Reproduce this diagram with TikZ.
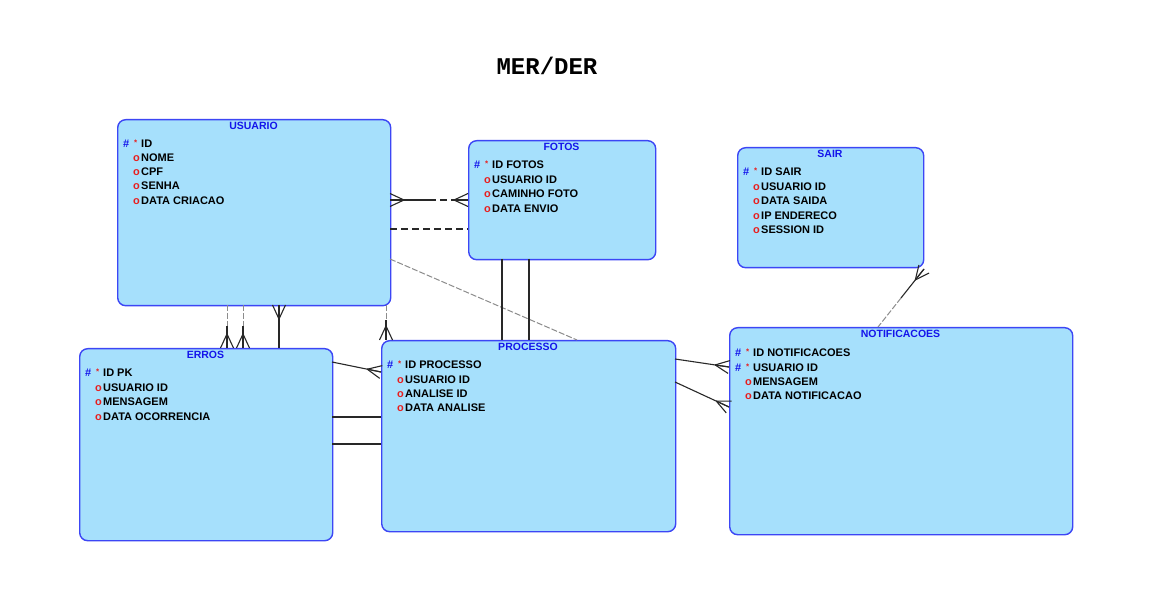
\documentclass[tikz,border=0pt]{standalone}
\usepackage{fontspec}
\setmainfont{Liberation Sans}
\newfontfamily\monob{Liberation Mono}
\usetikzlibrary{calc}
\definecolor{entfill}{RGB}{166,224,252}
\definecolor{entdraw}{RGB}{60,70,245}
\definecolor{ttlblue}{RGB}{20,20,235}
\definecolor{keyred}{RGB}{232,30,30}
\definecolor{relc}{RGB}{40,40,40}
\definecolor{rell}{RGB}{140,140,140}
\tikzset{
  ent/.style={draw=entdraw, fill=entfill, line width=1.4pt, rounded corners=8pt, anchor=north west, inner sep=0pt},
  ttl/.style={font=\bfseries\fontsize{10.5}{12}\selectfont, text=ttlblue, inner sep=0pt, text height=8pt, text depth=0pt},
  att/.style={font=\bfseries\fontsize{11}{12}\selectfont, inner sep=0pt, anchor=west, text height=8pt, text depth=0pt},
  star/.style={font=\bfseries\fontsize{8}{9}\selectfont, text=keyred, inner sep=0pt, anchor=west},
  rel/.style={draw=relc, line width=1.1pt},
  optd/.style={draw=relc, line width=1.1pt, dash pattern=on 7pt off 4pt},
  optl/.style={draw=rell, line width=1pt, dash pattern=on 6pt off 2pt},
}
% entity: name, x, y, w, h, title
\newcommand\entity[6]{%
  \node[ent, minimum width=#4pt, minimum height=#5pt] (#1) at (#2,#3) {};
  \node[ttl] (#1-title) at (#2+#4/2,#3+7) {#6};
}
% primary key row: name, box x, y, text
\newcommand\pkrow[4]{%
  \node[att, text=ttlblue] (#1-h) at (#2+6,#3) {\#};
  \node[star] (#1-s) at (#2+17,#3-1) {*};
  \node[att] (#1) at (#2+24,#3) {#4};
}
% optional attribute row
\newcommand\oprow[4]{%
  \node[att, text=keyred] (#1-o) at (#2+16,#3) {o};
  \node[att] (#1) at (#2+24,#3) {#4};
}
% crow's foot: end point on entity, point along the line
\newcommand\crowft[2]{%
  \draw[rel] ($(#1)!14pt!(#2)$) -- ($(#1)!6.5pt!90:(#2)$);
  \draw[rel] ($(#1)!14pt!(#2)$) -- (#1);
  \draw[rel] ($(#1)!14pt!(#2)$) -- ($(#1)!6.5pt!-90:(#2)$);
}
\begin{document}
\begin{tikzpicture}[x=1pt, y=-1pt]
\fill[white] (0,0) rectangle (1157,601);
\useasboundingbox (0,0) rectangle (1157,601);

\node[font=\monob\bfseries\fontsize{24}{27}\selectfont, inner sep=0pt] (title) at (547,66) {MER/DER};

% entities
\entity{usu}{117}{119}{273}{186}{USUARIO}
\entity{fot}{468}{140}{187}{119}{FOTOS}
\entity{sai}{737}{147}{186}{120}{SAIR}
\entity{err}{79}{348}{253}{192}{ERROS}
\entity{pro}{381}{340}{294}{191}{PROCESSO}
\entity{not}{729}{327}{343}{207}{NOTIFICACOES}

% USUARIO
\pkrow{u1}{117}{144}{ID}
\oprow{u2}{117}{158}{NOME}
\oprow{u3}{117}{172}{CPF}
\oprow{u4}{117}{186}{SENHA}
\oprow{u5}{117}{201}{DATA CRIACAO}
% FOTOS
\pkrow{f1}{468}{165}{ID FOTOS}
\oprow{f2}{468}{180}{USUARIO ID}
\oprow{f3}{468}{194}{CAMINHO FOTO}
\oprow{f4}{468}{209}{DATA ENVIO}
% SAIR
\pkrow{s1}{737}{172}{ID SAIR}
\oprow{s2}{737}{187}{USUARIO ID}
\oprow{s3}{737}{201}{DATA SAIDA}
\oprow{s4}{737}{216}{IP ENDERECO}
\oprow{s5}{737}{230}{SESSION ID}
% ERROS
\pkrow{e1}{79}{373}{ID PK}
\oprow{e2}{79}{388}{USUARIO ID}
\oprow{e3}{79}{402}{MENSAGEM}
\oprow{e4}{79}{417}{DATA OCORRENCIA}
% PROCESSO
\pkrow{p1}{381}{365}{ID PROCESSO}
\oprow{p2}{381}{380}{USUARIO ID}
\oprow{p3}{381}{394}{ANALISE ID}
\oprow{p4}{381}{408}{DATA ANALISE}
% NOTIFICACOES
\pkrow{n1}{729}{353}{ID NOTIFICACOES}
\pkrow{n2}{729}{368}{USUARIO ID}
\oprow{n3}{729}{382}{MENSAGEM}
\oprow{n4}{729}{396}{DATA NOTIFICACAO}

% connection points
\coordinate (uf1a) at (390,200); \coordinate (uf1m) at (429,200); \coordinate (uf1b) at (468,200);
\coordinate (uf2a) at (390,229); \coordinate (uf2b) at (468,229);
\coordinate (upa) at (390,259); \coordinate (upb) at (577,340);
\coordinate (fp1a) at (502,259); \coordinate (fp1b) at (502,340);
\coordinate (fp2a) at (529,259); \coordinate (fp2b) at (529,340);
\coordinate (ue1a) at (227,305); \coordinate (ue1m) at (227,326); \coordinate (ue1b) at (227,348);
\coordinate (ue2a) at (243,305); \coordinate (ue2m) at (243,326); \coordinate (ue2b) at (243,348);
\coordinate (ue3a) at (279,305); \coordinate (ue3b) at (279,348);
\coordinate (up2a) at (386,305); \coordinate (up2m) at (386,320); \coordinate (up2b) at (386,340);
\coordinate (ep1a) at (332,362); \coordinate (ep1b) at (381,372);
\coordinate (ep2a) at (332,417); \coordinate (ep2b) at (381,417);
\coordinate (ep3a) at (332,444); \coordinate (ep3b) at (381,444);
\coordinate (pn1a) at (675,359); \coordinate (pn1b) at (729,367);
\coordinate (pn2a) at (675,382); \coordinate (pn2b) at (729,407);
\coordinate (sna) at (924,269); \coordinate (snm) at (901,298); \coordinate (snb) at (878,327);

% USUARIO - FOTOS
\draw[rel] (uf1a) -- (uf1m);
\draw[optd] (uf1m) -- (uf1b);
\crowft{uf1a}{uf1b}
\crowft{uf1b}{uf1a}
\draw[optd] (uf2a) -- (uf2b);
% USUARIO - PROCESSO diagonal
\draw[optl] (upa) -- (upb);
% FOTOS - PROCESSO
\draw[rel] (fp1a) -- (fp1b);
\draw[rel] (fp2a) -- (fp2b);
% USUARIO - ERROS
\draw[optl] (ue1a) -- (ue1m);
\draw[rel] (ue1m) -- (ue1b);
\crowft{ue1b}{ue1a}
\draw[optl] (ue2a) -- (ue2m);
\draw[rel] (ue2m) -- (ue2b);
\crowft{ue2b}{ue2a}
\draw[rel] (ue3a) -- (ue3b);
\crowft{ue3a}{ue3b}
% USUARIO - PROCESSO
\draw[optl] (up2a) -- (up2m);
\draw[rel] (up2m) -- (up2b);
\crowft{up2b}{up2a}
% ERROS - PROCESSO
\draw[rel] (ep1a) -- (ep1b);
\crowft{ep1b}{ep1a}
\draw[rel] (ep2a) -- (ep2b);
\draw[rel] (ep3a) -- (ep3b);
% PROCESSO - NOTIFICACOES
\draw[rel] (pn1a) -- (pn1b);
\crowft{pn1b}{pn1a}
\draw[rel] (pn2a) -- (pn2b);
\crowft{pn2b}{pn2a}
% SAIR - NOTIFICACOES
\draw[rel] (sna) -- (snm);
\draw[optl] (snm) -- (snb);
\crowft{sna}{snb}
\end{tikzpicture}
\end{document}
